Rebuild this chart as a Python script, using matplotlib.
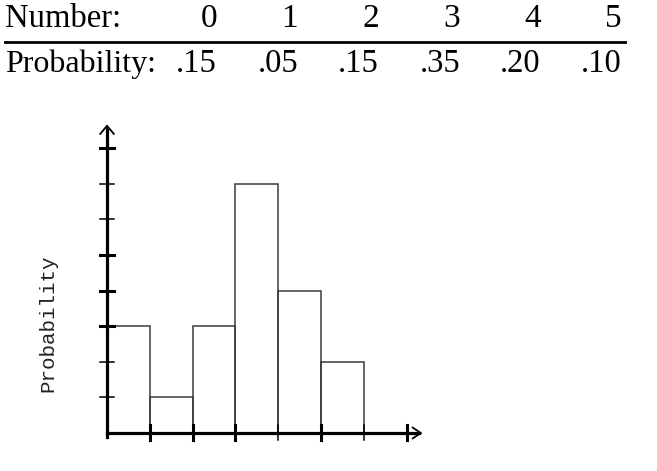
import matplotlib
matplotlib.use("Agg")
import matplotlib.pyplot as plt

numbers = [0, 1, 2, 3, 4, 5]
probs = [0.15, 0.05, 0.15, 0.35, 0.20, 0.10]
prob_labels = [".15", ".05", ".15", ".35", ".20", ".10"]

y_ticks = [0.05, 0.10, 0.15, 0.20, 0.25, 0.30, 0.35, 0.40]
y_tick_bold = [False, False, True, True, True, False, False, True]
x_ticks = [1, 2, 3, 4, 5, 6, 7]
x_tick_bold = [True, True, True, False, True, False, True]

W, H = 657, 471
fig = plt.figure(figsize=(W / 100, H / 100), dpi=100)


def fx(px):
    return px / W


def fy(py):
    return 1 - py / H


# table at the top
serif = "Liberation Serif"
fig.text(fx(5), fy(27), "Number:", fontsize=23.5, family=serif, va="baseline", ha="left")
fig.text(fx(5), fy(72), "Probability:", fontsize=23, family=serif, va="baseline", ha="left")
for i, (n, p) in enumerate(zip(numbers, prob_labels)):
    xr = fx(217 + 81 * i)
    fig.text(xr, fy(27), str(n), fontsize=24, family=serif, va="baseline", ha="right")
    fig.text(xr, fy(72), p, fontsize=23.5, family=serif, va="baseline", ha="right")
fig.add_artist(plt.Line2D([fx(5), fx(625)], [fy(42), fy(42)], color="black", lw=2))

# histogram
ax = fig.add_axes([fx(107), fy(433), 330 / W, 320 / H])
ax.set_xlim(0, 330 / 42.8)
ax.set_ylim(0, 320 / 712)
ax.axis("off")

ax.bar(numbers, probs, width=1, align="edge", fill=False, edgecolor="#3a3a3a", lw=1.1, zorder=2)

# axes lines with arrows
ax.plot([0, 0], [-0.006, 0.426], color="black", lw=2.3, clip_on=False, zorder=3)
ax.plot([0, 7.3], [0, 0], color="black", lw=2.3, clip_on=False, zorder=3)
ax.annotate("", xy=(0, 0.4335), xytext=(0, 0.41),
            arrowprops=dict(arrowstyle="->,head_length=0.3,head_width=0.25", lw=1.3,
                            color="black", mutation_scale=20, shrinkA=0, shrinkB=0))
ax.annotate("", xy=(7.37, 0), xytext=(7.0, 0),
            arrowprops=dict(arrowstyle="->,head_length=0.3,head_width=0.2", lw=1.3,
                            color="black", mutation_scale=20, shrinkA=0, shrinkB=0))

for t, b in zip(y_ticks, y_tick_bold):
    ax.plot([-0.16, 0.16], [t, t], color="black", lw=2.2 if b else 1.1, clip_on=False, zorder=3)
for t, b in zip(x_ticks, x_tick_bold):
    ax.plot([t, t], [-0.0098, 0.011], color="black", lw=2.2 if b else 1.1, clip_on=False, zorder=3)

fig.text(fx(48), fy(323), "Probability", fontsize=15, family="Liberation Mono",
         rotation=90, ha="center", va="center", color="#222222")

fig.savefig("out.png", dpi=100)
